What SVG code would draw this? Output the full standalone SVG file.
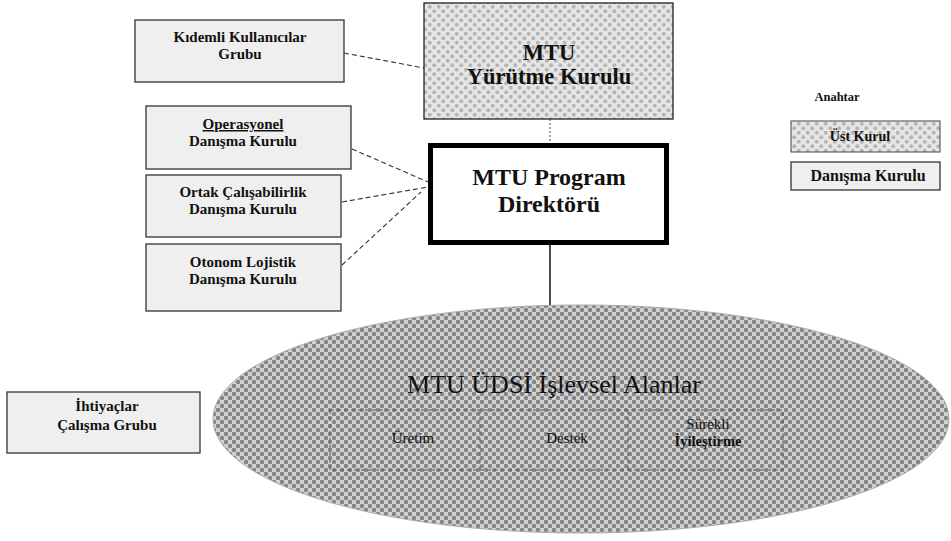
<svg xmlns="http://www.w3.org/2000/svg" width="951" height="541" viewBox="0 0 951 541">
<defs>
<pattern id="dotsDark" width="8" height="8" patternUnits="userSpaceOnUse">
<rect width="8" height="8" fill="#d2d2d2"/>
<circle cx="2" cy="2" r="2.2" fill="#858585"/>
<circle cx="6" cy="6" r="2.2" fill="#858585"/>
</pattern>
<pattern id="dotsLight" width="9" height="9" patternUnits="userSpaceOnUse">
<rect width="9" height="9" fill="#e6e6e6"/>
<circle cx="2.25" cy="2.25" r="2" fill="#b5b5b5"/>
<circle cx="6.75" cy="6.75" r="2" fill="#b5b5b5"/>
</pattern>
</defs>
<style>
.lbox{fill:#efefef;stroke:#333;stroke-width:1.3}
.t{font-family:"Liberation Serif","Times New Roman",serif;text-anchor:middle;fill:#111}
.sb{font-size:15px;font-weight:bold}
.conn{fill:none;stroke:#333;stroke-width:1.1;stroke-dasharray:5 3}
.inner{fill:none;stroke:#555;stroke-width:1;stroke-dasharray:4 3}
</style>
<rect width="951" height="541" fill="#fff"/>

<g id="connectors">
<line class="conn" x1="344" y1="53" x2="424" y2="68"/>
<line x1="550" y1="119" x2="550" y2="143" stroke="#444" stroke-width="1" stroke-dasharray="2 2"/>
<line class="conn" x1="352" y1="149" x2="428" y2="182"/>
<line class="conn" x1="342" y1="202" x2="428" y2="187"/>
<line class="conn" x1="342" y1="265" x2="421" y2="192"/>
<line x1="550" y1="245" x2="550" y2="307" stroke="#111" stroke-width="1.5"/>
</g>

<g id="kidemli">
<rect class="lbox" x="135" y="20" width="209" height="62" stroke="#777"/>
<text class="t sb" x="240" y="42">Kıdemli Kullanıcılar</text>
<text class="t sb" x="240" y="59">Grubu</text>
</g>

<g id="yurutme">
<rect x="424" y="3" width="249" height="116" fill="url(#dotsLight)" stroke="#222" stroke-width="1.3"/>
<text class="t" x="549" y="60" font-size="22.5" font-weight="bold">MTU</text>
<text class="t" x="549" y="84" font-size="22.5" font-weight="bold">Yürütme Kurulu</text>
</g>

<g id="direktor">
<rect x="430.5" y="145.5" width="236" height="97" fill="#fff" stroke="#000" stroke-width="5"/>
<text class="t" x="549" y="185" font-size="24" font-weight="bold">MTU Program</text>
<text class="t" x="549" y="212" font-size="24" font-weight="bold">Direktörü</text>
</g>

<g id="operasyonel">
<rect class="lbox" x="146" y="106" width="205" height="63"/>
<text class="t sb" x="243" y="129" text-decoration="underline">Operasyonel</text>
<text class="t sb" x="243" y="146">Danışma Kurulu</text>
</g>

<g id="ortak">
<rect class="lbox" x="146" y="175" width="195" height="62"/>
<text class="t sb" x="243" y="197">Ortak Çalışabilirlik</text>
<text class="t sb" x="243" y="214">Danışma Kurulu</text>
</g>

<g id="otonom">
<rect class="lbox" x="146" y="244" width="195" height="67"/>
<text class="t sb" x="243" y="267">Otonom Lojistik</text>
<text class="t sb" x="243" y="284">Danışma Kurulu</text>
</g>

<g id="legend">
<text class="t" x="837" y="101" font-size="12.5" font-weight="bold">Anahtar</text>
<rect x="791" y="121" width="149" height="31" fill="url(#dotsLight)" stroke="#444" stroke-width="1"/>
<text class="t" x="860" y="141" font-size="14" font-weight="bold" fill="#888">Üst Kurul</text>
<rect class="lbox" x="791" y="162" width="149" height="28"/>
<text class="t" x="868" y="181" font-size="16" font-weight="bold">Danışma Kurulu</text>
</g>

<g id="ihtiyaclar">
<rect class="lbox" x="7" y="392" width="193" height="61" stroke="#888"/>
<text class="t sb" x="107" y="411">İhtiyaçlar</text>
<text class="t sb" x="107" y="430">Çalışma Grubu</text>
</g>

<g id="alanlar">
<ellipse cx="581" cy="419" rx="368" ry="114" fill="url(#dotsDark)" stroke="#aaa" stroke-width="1"/>
<text class="t" x="554" y="393" font-size="26" fill="#222">MTU ÜDSİ İşlevsel Alanlar</text>
<rect class="inner" x="330" y="410" width="453" height="60"/>
<line class="inner" x1="480" y1="410" x2="480" y2="470"/>
<line class="inner" x1="628" y1="410" x2="628" y2="470"/>
<text class="t" x="413" y="443" font-size="15" fill="#222">Üretim</text>
<text class="t" x="567" y="443" font-size="15" fill="#222">Destek</text>
<text class="t" x="708" y="429" font-size="15" fill="#222">Sürekli</text>
<text class="t" x="708" y="446" font-size="14.5" font-weight="bold">İyileştirme</text>
</g>
</svg>
